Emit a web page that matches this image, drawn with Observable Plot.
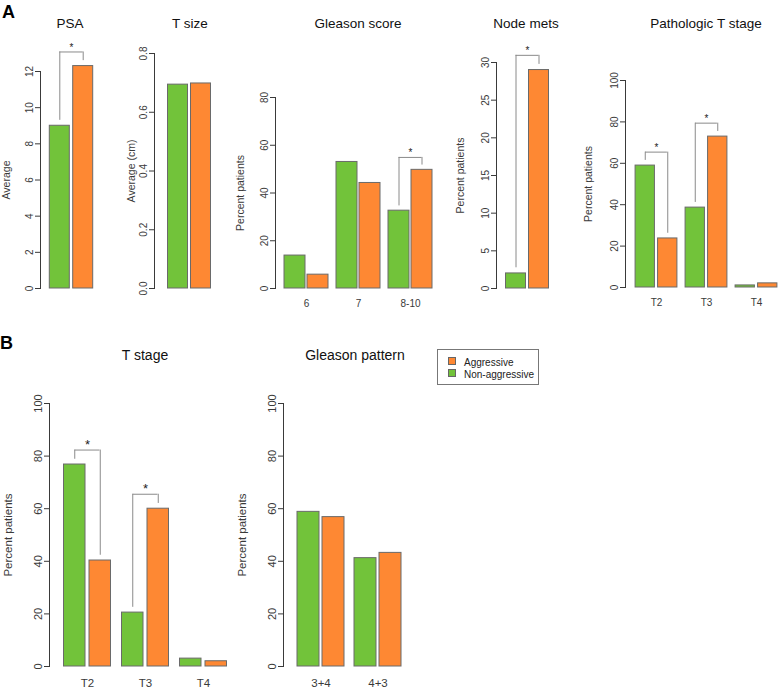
<!DOCTYPE html>
<html><head><meta charset="utf-8">
<script src="https://cdn.jsdelivr.net/npm/d3@7"></script>
<script src="https://cdn.jsdelivr.net/npm/@observablehq/plot@0.6"></script>
<style>
body{margin:0;background:#fff;}
#fig{position:relative;width:778px;height:690px;font-family:"Liberation Sans",Arial,sans-serif;overflow:hidden;background:#fff;}
.panel{position:absolute;}
.panel svg{overflow:visible;}
.title{position:absolute;transform:translate(-50%,-50%);font-size:14px;color:#111;white-space:nowrap;}
.tag{position:absolute;font-weight:bold;font-size:18px;color:#000;line-height:1;}
.legend{position:absolute;left:437px;top:349px;width:100px;height:34px;border:1px solid #777;font-size:10px;color:#222;box-sizing:content-box;}
.legend .row{position:absolute;left:10px;height:11px;line-height:11px;white-space:nowrap;}
.legend .sw{display:inline-block;width:6px;height:6px;border:1px solid #666;margin-right:8px;vertical-align:1px;}
</style>
</head><body>
<div id="fig"></div>
<script>
// ---------------- data ----------------
const series = ["Non-aggressive", "Aggressive"];
const colors = ["#72C33A", "#FE8833"];

const psaCats = [""];
const psaNon = [9.0];
const psaAgg = [12.3];
const psaSig = [""];
const psaTicks = [0, 2, 4, 6, 8, 10, 12];

const tsizeCats = [""];
const tsizeNon = [0.694];
const tsizeAgg = [0.698];
const tsizeSig = [];
const tsizeTicks = [0, 0.2, 0.4, 0.6, 0.8];

const gleasonScoreCats = ["6", "7", "8-10"];
const gleasonScoreNon = [13.8, 53.0, 32.6];
const gleasonScoreAgg = [5.8, 44.2, 49.7];
const gleasonScoreSig = ["8-10"];
const gleasonScoreTicks = [0, 20, 40, 60, 80];

const nodeMetsCats = [""];
const nodeMetsNon = [2.0];
const nodeMetsAgg = [29.0];
const nodeMetsSig = [""];
const nodeMetsTicks = [0, 5, 10, 15, 20, 25, 30];

const pathStageCats = ["T2", "T3", "T4"];
const pathStageNon = [58.9, 38.6, 1.0];
const pathStageAgg = [23.7, 72.9, 2.0];
const pathStageSig = ["T2", "T3"];

const tStageCats = ["T2", "T3", "T4"];
const tStageNon = [76.8, 20.5, 3.0];
const tStageAgg = [40.3, 60.0, 2.0];
const tStageSig = ["T2", "T3"];

const gleasonPatternCats = ["3+4", "4+3"];
const gleasonPatternNon = [58.8, 41.2];
const gleasonPatternAgg = [56.8, 43.2];
const gleasonPatternSig = [];

const percentTicks = [0, 20, 40, 60, 80, 100];

// ---------------- layout ----------------
const fig = document.getElementById("fig");
const TOP = {top: 0, bottom: 315, y0: 288, tick: 10, xFont: 10, xPad: 11, star: 10, g: 0.025, h: 0.065, starDy: -1, yl: 10.5};
const BOT = {top: 325, bottom: 690, y0: 666, tick: 11, xFont: 11.5, xPad: 12.5, star: 13, g: 0.02, h: 0.055, starDy: -1, yl: 11.5};

function panel(row, cfg, cats, non, agg, sig, ticks, fmt, yLabel) {
  const W = cfg.right - cfg.left, H = row.bottom - row.top;
  const y0 = cfg.y0 ?? row.y0;
  const P = (cfg.x1 - cfg.x0) / cats.length;
  const w = cfg.w, gi = cfg.gi;
  const rowsNon = cats.map((c, i) => ({cat: c, value: non[i]}));
  const rowsAgg = cats.map((c, i) => ({cat: c, value: agg[i]}));
  const topTick = ticks[ticks.length - 1];
  const sigRows = sig.map(c => {
    const i = cats.indexOf(c);
    return {cat: c, yL: non[i] + row.g * topTick, yR: agg[i] + row.g * topTick,
            yT: Math.max(non[i], agg[i]) + row.h * topTick};
  });
  const half = (gi + w) / 2;
  const bracket = "#8a8a8a";
  const svg = Plot.plot({
    width: W, height: H,
    marginLeft: cfg.axisX - cfg.left, marginRight: 0,
    marginTop: cfg.yTop - row.top, marginBottom: row.bottom - y0,
    style: {background: "transparent", color: "#3a3a3a", fontFamily: "Liberation Sans, Arial, sans-serif", fontSize: row.tick + "px", overflow: "visible"},
    x: {domain: cats, range: [cfg.x0 - cfg.left, cfg.x1 - cfg.left], padding: 0,
        axis: cats.length > 1 ? "bottom" : null, tickSize: 0, tickPadding: row.xPad, label: null},
    y: {domain: [0, topTick], ticks, tickFormat: fmt, tickRotate: -90, tickSize: 5, tickPadding: 3,
        line: true, label: yLabel, labelAnchor: "center", labelOffset: cfg.labelOffset, labelArrow: "none", grid: false},
    marks: [
      Plot.barY(rowsNon, {x: "cat", y: "value", fill: colors[0], stroke: "#6a6a6a", strokeWidth: 1,
        insetLeft: P / 2 - gi / 2 - w, insetRight: P / 2 + gi / 2}),
      Plot.barY(rowsAgg, {x: "cat", y: "value", fill: colors[1], stroke: "#6a6a6a", strokeWidth: 1,
        insetLeft: P / 2 + gi / 2, insetRight: P / 2 - gi / 2 - w}),
      Plot.ruleX(sigRows, {x: "cat", y1: "yL", y2: "yT", dx: -half, stroke: bracket}),
      Plot.ruleX(sigRows, {x: "cat", y1: "yR", y2: "yT", dx: half, stroke: bracket}),
      Plot.tickY(sigRows, {x: "cat", y: "yT", stroke: bracket, insetLeft: P / 2 - half, insetRight: P / 2 - half}),
      Plot.text(sigRows, {x: "cat", y: "yT", text: () => "*", fontSize: row.star, fill: "#222", lineAnchor: "bottom", dy: row.starDy})
    ]
  });
  svg.querySelectorAll('[aria-label="x-axis tick label"] text').forEach(t => t.style.fontSize = row.xFont + "px");
  svg.querySelectorAll('[aria-label="y-axis label"] text').forEach(t => t.style.fontSize = row.yl + "px");
  const div = document.createElement("div");
  div.className = "panel";
  div.style.left = cfg.left + "px";
  div.style.top = row.top + "px";
  div.appendChild(svg);
  fig.appendChild(div);
}

function title(text, x, y, size) {
  const d = document.createElement("div");
  d.className = "title";
  d.textContent = text;
  d.style.left = x + "px"; d.style.top = y + "px";
  if (size) d.style.fontSize = size + "px";
  fig.appendChild(d);
}
function tag(text, x, y) {
  const d = document.createElement("div");
  d.className = "tag"; d.textContent = text;
  d.style.left = x + "px"; d.style.top = y + "px";
  fig.appendChild(d);
}

const f0 = d3.format("d"), f1 = d3.format(".1f");

panel(TOP, {left: 0, right: 112, axisX: 40, yTop: 71, x0: 46, x1: 96, w: 20, gi: 3.4, labelOffset: 38},
  psaCats, psaNon, psaAgg, psaSig, psaTicks, f0, "Average");
panel(TOP, {left: 112, right: 232, axisX: 154, yTop: 53, x0: 163.5, x1: 213.5, w: 20, gi: 3, labelOffset: 27},
  tsizeCats, tsizeNon, tsizeAgg, tsizeSig, tsizeTicks, f1, "Average (cm)");
panel(TOP, {left: 232, right: 447, axisX: 275, yTop: 97, x0: 280, x1: 436, w: 21, gi: 2, labelOffset: 39},
  gleasonScoreCats, gleasonScoreNon, gleasonScoreAgg, gleasonScoreSig, gleasonScoreTicks, f0, "Percent patients");
panel(TOP, {left: 447, right: 570, axisX: 496, yTop: 62, x0: 501.5, x1: 551.5, w: 20, gi: 3, labelOffset: 40},
  nodeMetsCats, nodeMetsNon, nodeMetsAgg, nodeMetsSig, nodeMetsTicks, f0, "Percent patients");
panel(TOP, {left: 570, right: 778, axisX: 625, yTop: 80, y0: 287, x0: 630, x1: 782, w: 20, gi: 2.5, labelOffset: 41},
  pathStageCats, pathStageNon, pathStageAgg, pathStageSig, percentTicks, f0, "Percent patients");
panel(BOT, {left: 0, right: 235, axisX: 49, yTop: 403, x0: 56.75, x1: 232.25, w: 22, gi: 3.5, labelOffset: 46},
  tStageCats, tStageNon, tStageAgg, tStageSig, percentTicks, f0, "Percent patients");
panel(BOT, {left: 235, right: 430, axisX: 283, yTop: 403, x0: 292, x1: 406, w: 22, gi: 3, labelOffset: 46},
  gleasonPatternCats, gleasonPatternNon, gleasonPatternAgg, gleasonPatternSig, percentTicks, f0, "Percent patients");

title("PSA", 70, 23, 13.5);
title("T size", 190, 23, 13.5);
title("Gleason score", 358, 23, 13.5);
title("Node mets", 526, 23, 13.5);
title("Pathologic T stage", 706, 23, 13.5);
title("T stage", 145, 355, 14);
title("Gleason pattern", 355, 355, 14);
tag("A", 2, 3);
tag("B", 0, 334);

// legend
const lg = document.createElement("div");
lg.className = "legend";
[series[1], series[0]].forEach((s, k) => {
  const r = document.createElement("div");
  r.className = "row";
  r.style.top = (7 + k * 11.5) + "px";
  const sw = document.createElement("span");
  sw.className = "sw";
  sw.style.background = colors[series.indexOf(s)];
  r.appendChild(sw);
  r.appendChild(document.createTextNode(s));
  lg.appendChild(r);
});
fig.appendChild(lg);
</script>
</body></html>
